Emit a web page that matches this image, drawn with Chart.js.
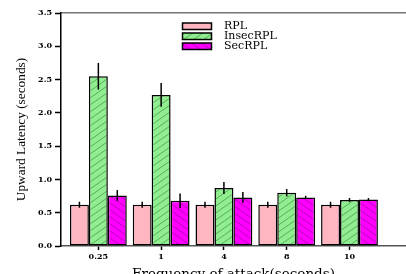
<!DOCTYPE html>
<html>
<head>
<meta charset="utf-8">
<script src="https://cdn.jsdelivr.net/npm/chart.js@4.4.1/dist/chart.umd.min.js"></script>
<style>
  body { margin: 0; background: #fff; overflow: hidden; }
  canvas { display: block; }
</style>
</head>
<body>
<canvas id="myChart" width="406" height="274"></canvas>
<script>
// attack frequency (seconds)
var categories = ["0.25", "1", "4", "8", "10"];
var seriesNames = ["RPL", "InsecRPL", "SecRPL"];

// upward latency (seconds) and error bar half-widths
var rplValues = [0.62, 0.62, 0.62, 0.62, 0.62];
var rplErrors = [0.045, 0.045, 0.045, 0.045, 0.045];
var insecValues = [2.55, 2.27, 0.87, 0.80, 0.69];
var insecErrors = [0.20, 0.18, 0.09, 0.055, 0.03];
var secValues = [0.76, 0.68, 0.73, 0.73, 0.70];
var secErrors = [0.08, 0.11, 0.08, 0.025, 0.02];

var yTicks = [0, 0.5, 1.0, 1.5, 2.0, 2.5, 3.0, 3.5];

function hatch(bg, line, dir) {
    var c = document.createElement("canvas");
    c.width = 10; c.height = 7;
    var g = c.getContext("2d");
    g.fillStyle = bg;
    g.fillRect(0, 0, 10, 7);
    if (line) {
        g.strokeStyle = line;
        g.lineWidth = 0.8;
        g.beginPath();
        for (var k = -1; k <= 1; k++) {
            if (dir > 0) { g.moveTo(-10 + k * 10, 14); g.lineTo(20 + k * 10, -7); }
            else { g.moveTo(-10 + k * 10, -7); g.lineTo(20 + k * 10, 14); }
        }
        g.stroke();
    }
    return g.createPattern(c, "repeat");
}

var ctx = document.getElementById("myChart").getContext("2d");
var fills = [
    "#ffb6c1",
    hatch("#90ee90", "#4aa04a", 1),
    hatch("#ff00ff", "#a800a8", -1)
];
var valueSets = [rplValues, insecValues, secValues];
var errorSets = [rplErrors, insecErrors, secErrors];

var errorBars = {
    id: "errorBars",
    afterDatasetsDraw: function(chart) {
        var c = chart.ctx, y = chart.scales.y;
        c.save();
        c.strokeStyle = "#000";
        c.lineWidth = 1.5;
        chart.data.datasets.forEach(function(ds, i) {
            var meta = chart.getDatasetMeta(i);
            meta.data.forEach(function(bar, j) {
                var v = valueSets[i][j], e = errorSets[i][j];
                c.beginPath();
                c.moveTo(bar.x, y.getPixelForValue(v - e));
                c.lineTo(bar.x, y.getPixelForValue(v + e));
                c.stroke();
            });
        });
        c.restore();
    }
};

var boxLegend = {
    id: "boxLegend",
    afterDraw: function(chart) {
        var c = chart.ctx;
        c.save();
        chart.data.datasets.forEach(function(ds, i) {
            var top = 23 + i * 10;
            c.fillStyle = ds.backgroundColor;
            c.fillRect(182.5, top, 29, 6.5);
            c.strokeStyle = "#000";
            c.lineWidth = 1.5;
            c.strokeRect(182.5, top, 29, 6.5);
            c.fillStyle = "#000";
            c.font = "11px 'DejaVu Serif'";
            c.textBaseline = "middle";
            c.fillText(ds.label, 224, top + 3.5);
        });
        c.restore();
    }
};

new Chart(ctx, {
    type: "bar",
    data: {
        datasets: valueSets.map(function(vals, i) {
            return {
                label: seriesNames[i],
                data: vals.map(function(v, j) { return {x: j, y: v}; }),
                backgroundColor: fills[i],
                borderColor: "#000",
                borderWidth: 1.5,
                borderSkipped: false,
                categoryPercentage: 0.905,
                barPercentage: 1.0
            };
        })
    },
    options: {
        responsive: false,
        animation: false,
        layout: {padding: {top: 13, left: 0, right: 0, bottom: 0}},
        plugins: {legend: {display: false}, tooltip: {enabled: false}},
        scales: {
            x: {
                type: "linear",
                offset: false,
                min: -0.595,
                max: 4.9,
                afterBuildTicks: function(scale) {
                    scale.ticks = categories.map(function(_, i) { return {value: i}; });
                },
                afterFit: function(scale) { scale.height = 28; },
                grid: {offset: false, drawOnChartArea: false, drawTicks: true, tickLength: 4, tickColor: "#000", tickWidth: 1.5},
                border: {color: "#555", width: 1.5},
                ticks: {
                    color: "#000",
                    padding: 2,
                    maxRotation: 0,
                    font: {family: "DejaVu Serif", weight: "bold", size: 8},
                    callback: function(v) { return categories[v] !== undefined ? categories[v] : ""; }
                },
                title: {
                    display: true,
                    text: "Frequency of attack(seconds)",
                    color: "#000",
                    font: {family: "DejaVu Serif", size: 13.5, lineHeight: 1.0},
                    padding: {top: 0, bottom: -7}
                }
            },
            x2: {
                type: "linear",
                position: "top",
                min: 0, max: 1,
                afterFit: function(scale) { scale.height = 0; },
                grid: {display: false},
                ticks: {display: false},
                border: {color: "#777", width: 1.5}
            },
            y: {
                min: 0,
                max: 3.5,
                afterBuildTicks: function(scale) {
                    scale.ticks = yTicks.map(function(v) { return {value: v}; });
                },
                afterFit: function(scale) { scale.width = 61; },
                grid: {drawOnChartArea: false, drawTicks: true, tickLength: 6, tickColor: "#000", tickWidth: 1.5},
                border: {color: "#000", width: 1.5},
                ticks: {
                    color: "#000",
                    padding: 3,
                    font: {family: "DejaVu Serif", weight: "bold", size: 8},
                    callback: function(v) { return v.toFixed(1); }
                },
                title: {
                    display: true,
                    text: "Upward Latency (seconds)",
                    color: "#000",
                    font: {family: "Liberation Serif", size: 13.3, lineHeight: 1.0},
                    padding: {top: 15, bottom: 0}
                }
            }
        }
    },
    plugins: [errorBars, boxLegend]
});
</script>
</body>
</html>
